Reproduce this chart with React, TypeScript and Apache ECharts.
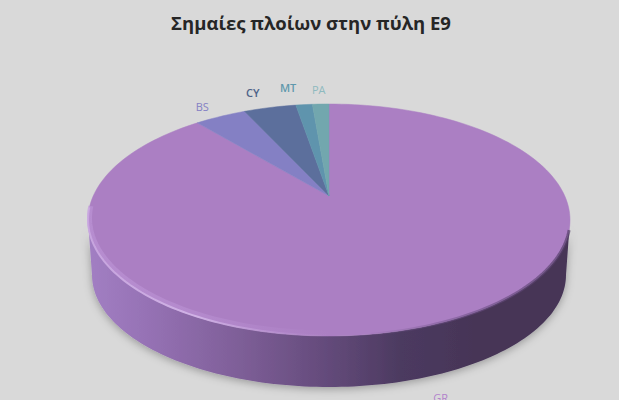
import React, { useEffect, useRef } from "react";
import * as echarts from "echarts";

const titleText = "Σημαίες πλοίων στην πύλη E9";
const categories = ["GR", "BS", "CY", "MT", "PA"];
const shares = [90.8, 3.5, 3.5, 1.1, 1.1];
const sliceColors = ["#ab7fc3", "#8480c4", "#5c6f9c", "#5f94ad", "#72a7ae"];
const labelColors = ["#b283cc", "#8480c4", "#4c6288", "#5f98ac", "#8ebabf"];

// Projection of the disc
const W = 619, H = 400;
const CX = 329, TOP_CY = 220, RX = 241, RY = 116;
const APEX_Y = 196;
const LOW_CY = 275, LOW_RX = 237, LOW_RY = 112;
const labelOffsets: [number, number][] = [
  [43, 66], [-18, -10], [-17, -15], [-16, -17], [-2, -15],
];

const rad = (d: number) => (d * Math.PI) / 180;
const rim = (deg: number, cy = TOP_CY, rx = RX, ry = RY): [number, number] => [
  CX + rx * Math.sin(rad(deg)),
  cy - ry * Math.cos(rad(deg)),
];
const arc = (from: number, to: number, cy = TOP_CY, rx = RX, ry = RY) => {
  const n = Math.max(2, Math.ceil(Math.abs(to - from) / 1.5));
  const pts: [number, number][] = [];
  for (let i = 0; i <= n; i++) pts.push(rim(from + ((to - from) * i) / n, cy, rx, ry));
  return pts;
};

const total = shares.reduce((a, b) => a + b, 0);
const starts: number[] = [];
shares.reduce((acc, v, i) => {
  starts[i] = acc;
  return acc + v;
}, 0);

const hGrad = (stops: [number, string][], x0 = 88, x1 = 570) => ({
  type: "linear",
  global: true,
  x: x0,
  y: 0,
  x2: x1,
  y2: 0,
  colorStops: stops.map(([p, color]) => ({ offset: p, color })),
});

function renderItem(params: any, api: any) {
  const i = params.dataIndex;
  const value = api.value(0);
  const a0 = (starts[i] / total) * 360;
  const a1 = a0 + (value / total) * 360;
  const mid = (a0 + a1) / 2;
  const children: any[] = [];

  if (i === 0) {
    const side = [
      ...arc(90, 270),
      ...arc(270, 90, LOW_CY, LOW_RX, LOW_RY),
    ];
    children.push({
      type: "polygon",
      shape: { points: side },
      style: {
        fill: hGrad([
          [0, "#a27fc3"],
          [0.12, "#9672b5"],
          [0.3, "#80609a"],
          [0.5, "#634a7a"],
          [0.65, "#4c3a60"],
          [0.8, "#463557"],
          [1, "#463557"],
        ]),
        shadowColor: "rgba(0,0,0,0.3)",
        shadowBlur: 8,
        shadowOffsetY: 2,
      },
    });
  }

  children.push({
    type: "polygon",
    shape: { points: [[CX, APEX_Y], ...arc(a0, a1)] },
    style: { fill: sliceColors[i], stroke: sliceColors[i], lineWidth: 0.5 },
  });

  if (i === 0) {
    children.push({
      type: "polyline",
      shape: { points: arc(180, 276, TOP_CY - 2, RX - 1.5, RY - 1) },
      style: {
        fill: "none",
        lineWidth: 5,
        stroke: hGrad([
          [0, "rgba(190,150,216,0.6)"],
          [0.4, "rgba(190,150,216,0.5)"],
          [1, "rgba(190,150,216,0)"],
        ], 88, 330),
      },
    });
    children.push({
      type: "polyline",
      shape: { points: arc(180, 276, TOP_CY - 0.5) },
      style: {
        fill: "none",
        lineWidth: 2,
        stroke: hGrad([
          [0, "rgba(205,172,228,0.75)"],
          [0.45, "rgba(214,186,235,0.85)"],
          [1, "rgba(190,150,215,0)"],
        ], 88, 330),
      },
    });
    children.push({
      type: "polyline",
      shape: { points: arc(95, 170) },
      style: {
        fill: "none",
        lineWidth: 3,
        stroke: hGrad([
          [0, "rgba(110,80,135,0)"],
          [0.5, "rgba(110,80,135,0.55)"],
          [1, "rgba(85,62,105,0.7)"],
        ], 360, 570),
      },
    });
  }

  const [lx, ly] = rim(mid);
  const [ox, oy] = labelOffsets[i];
  children.push({
    type: "text",
    x: lx + ox,
    y: ly + oy,
    style: {
      text: categories[i],
      fill: labelColors[i],
      font: (i === 2 || i === 3 ? "600 " : "") + "11px 'Open Sans'",
      align: "center",
      verticalAlign: "middle",
    },
  });
  return { type: "group", children };
}

export default function App() {
  const ref = useRef<HTMLDivElement>(null);
  useEffect(() => {
    const chart = echarts.init(ref.current!, undefined, { renderer: "svg", width: W, height: H });
    chart.setOption({
      animation: false,
      backgroundColor: "#d9d9d9",
      title: {
        text: titleText,
        left: 306,
        textAlign: "center",
        top: 8,
        textStyle: { fontFamily: "Open Sans", fontWeight: "bold", fontSize: 18.5, color: "#262626" },
      },
      series: [
        {
          type: "custom",
          coordinateSystem: "none",
          clip: false,
          renderItem,
          data: shares.map((v) => [v]),
        },
      ],
    });
    return () => chart.dispose();
  }, []);
  return <div ref={ref} style={{ position: "fixed", left: 0, top: 0, width: W, height: H, overflow: "hidden" }} />;
}
